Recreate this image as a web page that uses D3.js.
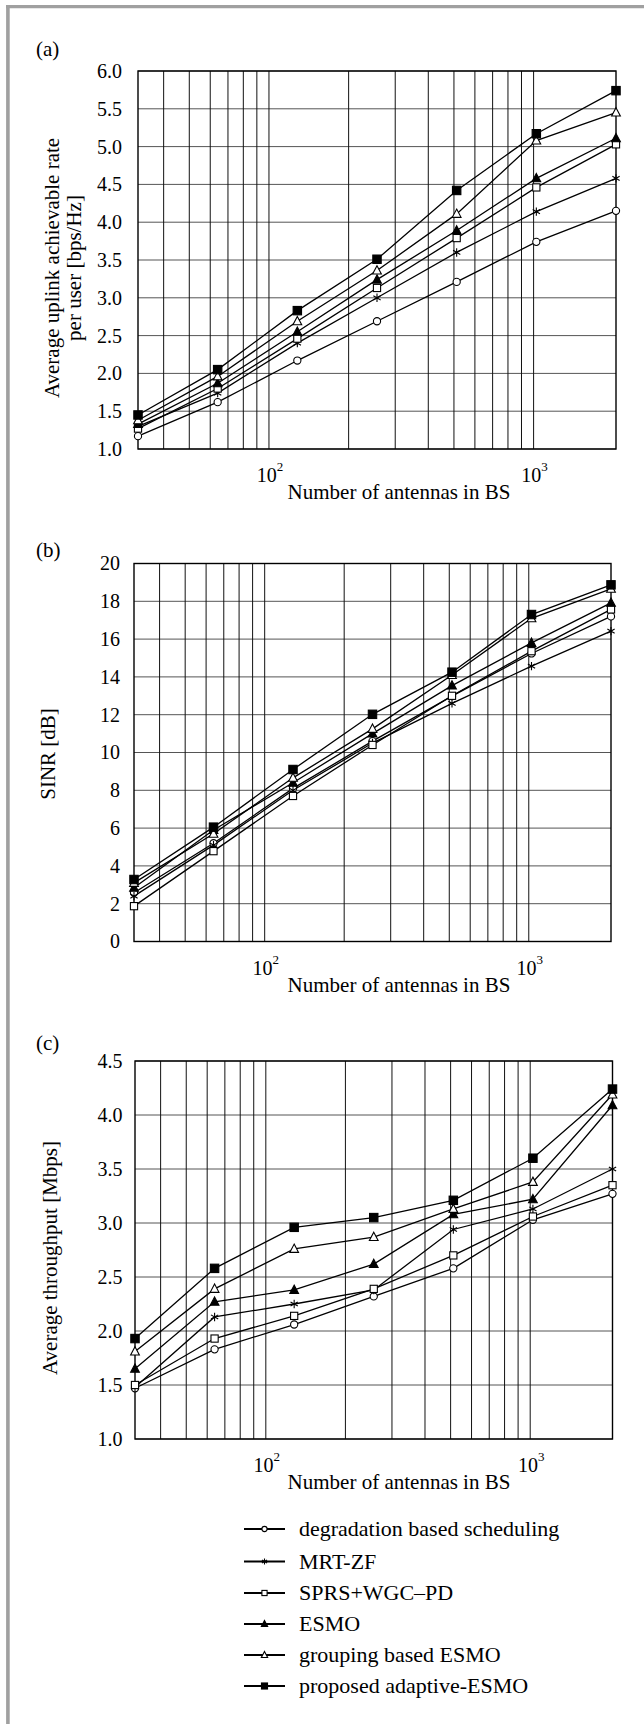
<!DOCTYPE html>
<html>
<head>
<meta charset="utf-8">
<script src="https://cdn.jsdelivr.net/npm/d3@7"></script>
<style>
  html, body { margin: 0; padding: 0; background: #fff; }
  svg { display: block; }
  text { font-family: "Liberation Serif", "Times New Roman", serif; fill: #000; }
</style>
</head>
<body>
<svg id="chart" width="644" height="1724"></svg>
<script>
// ---------- data ----------
const antennas = [32, 64, 128, 256, 512, 1024, 2048];
const seriesNames = ["degradation based scheduling", "MRT-ZF", "SPRS+WGC\u2013PD", "ESMO", "grouping based ESMO", "proposed adaptive-ESMO"];
const seriesMarkers = ["circle", "asterisk", "square", "triangleFilled", "triangle", "squareFilled"];

// (a) Average uplink achievable rate per user [bps/Hz]
const rateDegradation = [1.17, 1.62, 2.17, 2.69, 3.21, 3.74, 4.15];
const rateMrtZf       = [1.30, 1.74, 2.40, 3.00, 3.60, 4.14, 4.58];
const rateSprs        = [1.27, 1.80, 2.46, 3.13, 3.79, 4.46, 5.03];
const rateEsmo        = [1.33, 1.87, 2.55, 3.24, 3.89, 4.58, 5.11];
const rateGrouping    = [1.38, 1.96, 2.69, 3.36, 4.11, 5.08, 5.45];
const rateAdaptive    = [1.45, 2.05, 2.83, 3.51, 4.42, 5.17, 5.74];

// (b) SINR [dB]
const sinrDegradation = [2.58, 5.20, 8.10, 10.60, 12.98, 15.24, 17.20];
const sinrMrtZf       = [2.40, 5.10, 8.00, 10.50, 12.60, 14.57, 16.42];
const sinrSprs        = [1.87, 4.78, 7.70, 10.40, 13.00, 15.36, 17.57];
const sinrEsmo        = [2.84, 5.90, 8.40, 11.00, 13.54, 15.80, 17.92];
const sinrGrouping    = [3.10, 5.70, 8.66, 11.25, 14.10, 17.10, 18.66];
const sinrAdaptive    = [3.28, 6.05, 9.10, 12.02, 14.25, 17.30, 18.87];

// (c) Average throughput [Mbps]
const thrDegradation = [1.47, 1.83, 2.06, 2.32, 2.58, 3.03, 3.27];
const thrMrtZf       = [1.48, 2.13, 2.25, 2.38, 2.94, 3.13, 3.50];
const thrSprs        = [1.50, 1.93, 2.14, 2.39, 2.70, 3.06, 3.35];
const thrEsmo        = [1.65, 2.27, 2.38, 2.62, 3.08, 3.22, 4.09];
const thrGrouping    = [1.81, 2.39, 2.76, 2.87, 3.13, 3.38, 4.19];
const thrAdaptive    = [1.93, 2.58, 2.96, 3.05, 3.21, 3.60, 4.24];

const yTicksA = [1.0, 1.5, 2.0, 2.5, 3.0, 3.5, 4.0, 4.5, 5.0, 5.5, 6.0];
const yTicksB = [0, 2, 4, 6, 8, 10, 12, 14, 16, 18, 20];
const yTicksC = [1.0, 1.5, 2.0, 2.5, 3.0, 3.5, 4.0, 4.5];
const xMajorTicks = [100, 1000];
const xMinorGrid = [40, 50, 60, 70, 80, 90, 100, 200, 300, 400, 500, 600, 700, 800, 900, 1000];
const xTitle = "Number of antennas in BS";

// ---------- layout ----------
const panels = [
  { label: "(a)", labelX: 36, labelY: 56, left: 138, right: 616, top: 71, bottom: 449,
    yDomain: [1, 6], yTicks: yTicksA, fmt: d3.format(".1f"), pad: 16,
    series: [rateDegradation, rateMrtZf, rateSprs, rateEsmo, rateGrouping, rateAdaptive],
    yTitle: ["Average uplink achievable rate", "per user [bps/Hz]"], yTitleX: [59, 81], yTitleY: 268 },
  { label: "(b)", labelX: 36, labelY: 557, left: 134, right: 611, top: 563.5, bottom: 941.5,
    yDomain: [0, 20], yTicks: yTicksB, fmt: d3.format("d"), pad: 14,
    series: [sinrDegradation, sinrMrtZf, sinrSprs, sinrEsmo, sinrGrouping, sinrAdaptive],
    yTitle: ["SINR [dB]"], yTitleX: [55], yTitleY: 754 },
  { label: "(c)", labelX: 36, labelY: 1050, left: 135, right: 612.5, top: 1061, bottom: 1439,
    yDomain: [1, 4.5], yTicks: yTicksC, fmt: d3.format(".1f"), pad: 12.5,
    series: [thrDegradation, thrMrtZf, thrSprs, thrEsmo, thrGrouping, thrAdaptive],
    yTitle: ["Average throughput [Mbps]"], yTitleX: [57], yTitleY: 1258 }
];

const svg = d3.select("#chart");
svg.append("rect").attr("width", 644).attr("height", 1724).attr("fill", "#fff");

// gray frame (top and left edges)
svg.append("line").attr("x1", 6).attr("x2", 644).attr("y1", 6.6).attr("y2", 6.6)
  .attr("stroke", "#a0a0a0").attr("stroke-width", 3.4);
svg.append("line").attr("x1", 7.9).attr("x2", 7.9).attr("y1", 5).attr("y2", 1724)
  .attr("stroke", "#a0a0a0").attr("stroke-width", 3.6);

function drawMarker(g, type, x, y, s) {
  const k = s || 1;
  if (type === "circle") {
    g.append("circle").attr("cx", x).attr("cy", y).attr("r", 3.6 * k)
      .attr("fill", "#fff").attr("stroke", "#000").attr("stroke-width", 1.1);
  } else if (type === "square" || type === "squareFilled") {
    const h = (type === "square" ? 3.6 : 4.2) * k;
    g.append("rect").attr("x", x - h).attr("y", y - h).attr("width", 2 * h).attr("height", 2 * h)
      .attr("fill", type === "square" ? "#fff" : "#000").attr("stroke", "#000").attr("stroke-width", 1.1);
  } else if (type === "triangle" || type === "triangleFilled") {
    const h = 4.6 * k;
    const p = [[x, y - h * 1.05], [x + h * 0.95, y + h * 0.75], [x - h * 0.95, y + h * 0.75]];
    g.append("path").attr("d", "M" + p.map(q => q.join(",")).join("L") + "Z")
      .attr("fill", type === "triangle" ? "#fff" : "#000").attr("stroke", "#000").attr("stroke-width", 1.1);
  } else if (type === "asterisk") {
    const r = 4.2 * k;
    let d = "";
    [90, 30, -30].forEach(a => {
      const rad = a * Math.PI / 180;
      const dx = r * Math.cos(rad), dy = r * Math.sin(rad);
      d += `M${x - dx},${y - dy}L${x + dx},${y + dy}`;
    });
    g.append("path").attr("d", d).attr("stroke", "#000").attr("stroke-width", 1.1).attr("fill", "none");
  }
}

panels.forEach(p => {
  const x = d3.scaleLog().domain([32, 2048]).range([p.left, p.right]);
  const y = d3.scaleLinear().domain(p.yDomain).range([p.bottom, p.top]);
  const g = svg.append("g");

  // horizontal grid
  g.selectAll(".hg").data(p.yTicks).enter().append("line")
    .attr("x1", p.left).attr("x2", p.right)
    .attr("y1", d => y(d)).attr("y2", d => y(d))
    .attr("stroke", "#555").attr("stroke-width", 1);
  // vertical grid
  g.selectAll(".vg").data(xMinorGrid).enter().append("line")
    .attr("x1", d => x(d)).attr("x2", d => x(d))
    .attr("y1", p.top).attr("y2", p.bottom)
    .attr("stroke", "#111").attr("stroke-width", 1);
  // frame
  g.append("rect").attr("x", p.left).attr("y", p.top)
    .attr("width", p.right - p.left).attr("height", p.bottom - p.top)
    .attr("fill", "none").attr("stroke", "#000").attr("stroke-width", 1.4);

  // y axis labels via d3 axis
  const ax = d3.axisLeft(y).tickValues(p.yTicks).tickFormat(p.fmt).tickSize(0).tickPadding(p.pad);
  const axg = g.append("g").attr("transform", `translate(${p.left},0)`).call(ax);
  axg.attr("font-family", null);
  axg.select(".domain").remove();
  axg.selectAll("text").attr("font-size", 20).attr("fill", "#000");

  // x tick labels 10^n
  xMajorTicks.forEach(v => {
    const t = g.append("text").attr("x", x(v) + 1).attr("y", p.bottom + 33)
      .attr("text-anchor", "middle").attr("font-size", 20);
    t.append("tspan").text("10");
    t.append("tspan").attr("font-size", 13).attr("dy", -11).text(String(Math.round(Math.log10(v))));
  });
  // x title
  g.append("text").attr("x", 399).attr("y", p.bottom + 50).attr("text-anchor", "middle")
    .attr("font-size", 21).text(xTitle);

  // panel label
  g.append("text").attr("x", p.labelX).attr("y", p.labelY).attr("font-size", 21).text(p.label);

  // y title
  p.yTitle.forEach((s, i) => {
    g.append("text").attr("transform", `translate(${p.yTitleX[i]},${p.yTitleY}) rotate(-90)`)
      .attr("text-anchor", "middle").attr("font-size", 21).text(s);
  });

  // lines
  const line = d3.line().x((d, i) => x(antennas[i])).y(d => y(d));
  p.series.forEach(vals => {
    g.append("path").attr("d", line(vals)).attr("fill", "none")
      .attr("stroke", "#000").attr("stroke-width", 1.3);
  });
  // markers
  p.series.forEach((vals, si) => {
    vals.forEach((v, i) => drawMarker(g, seriesMarkers[si], x(antennas[i]), y(v)));
  });
});

// legend
const legendYs = [1529, 1561.5, 1593, 1624, 1655, 1686];
const lg = svg.append("g");
seriesNames.forEach((name, i) => {
  const yy = legendYs[i];
  lg.append("line").attr("x1", 244).attr("x2", 285).attr("y1", yy).attr("y2", yy)
    .attr("stroke", "#000").attr("stroke-width", 1.8);
  drawMarker(lg, seriesMarkers[i], 264.5, yy, 0.72);
  lg.append("text").attr("x", 299).attr("y", yy + 7).attr("font-size", 22).text(name);
});
</script>
</body>
</html>
